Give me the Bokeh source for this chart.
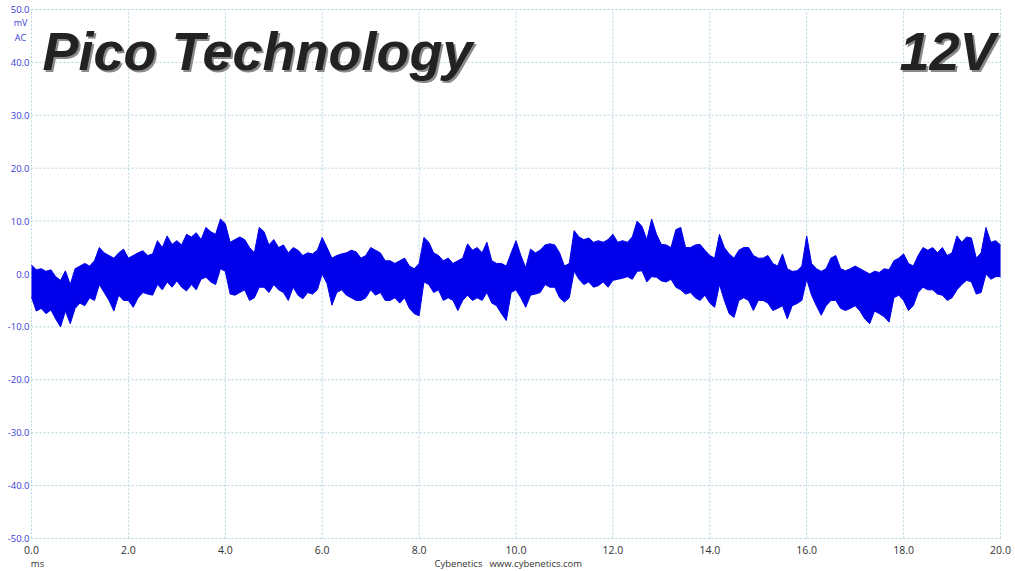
from bokeh.plotting import figure
from bokeh.models import Range1d, Label, ColumnDataSource
from bokeh.core.properties import value
from bokeh.embed import file_html
from bokeh.resources import INLINE

# ---- data (ms, mV) ----
step_ms = 0.1
upper_mv = [
    1.7, 0.8, 1.0, 0.5, 0.8, -0.5, -1.2, 0.6, -2.0, 1.0,
    1.5, 2.0, 1.5, 2.5, 5.0, 4.0, 3.5, 3.0, 4.0, 4.7,
    3.0, 3.5, 4.0, 4.4, 3.5, 3.8, 6.3, 5.0, 7.2, 5.6,
    6.3, 5.5, 7.5, 7.0, 7.8, 6.5, 8.8, 8.0, 7.5, 10.4,
    9.5, 6.0, 6.5, 7.0, 6.5, 5.0, 4.0, 8.8, 8.0, 5.5,
    6.5, 5.0, 5.5, 4.0, 5.0, 4.5, 3.5, 4.0, 3.8, 4.5,
    6.9, 5.0, 3.0, 3.5, 3.8, 4.0, 4.5, 4.2, 3.0, 3.5,
    5.0, 4.5, 4.0, 2.5, 2.5, 2.0, 2.5, 3.0, 1.5, 1.0,
    2.0, 6.9, 6.0, 4.0, 3.5, 2.5, 3.0, 2.0, 2.5, 3.0,
    5.7, 4.5, 5.0, 4.0, 6.0, 2.5, 2.0, 2.0, 1.5, 4.0,
    6.3, 3.5, 1.2, 4.7, 4.0, 4.5, 5.5, 5.7, 5.5, 4.0,
    1.5, 2.0, 8.2, 7.0, 6.5, 6.8, 6.0, 6.3, 6.0, 6.5,
    7.5, 6.0, 6.3, 6.0, 7.0, 10.0, 9.0, 6.5, 10.4, 7.5,
    5.6, 5.5, 5.0, 8.4, 8.8, 5.0, 5.0, 5.5, 5.6, 4.5,
    3.5, 3.0, 7.5, 5.0, 3.8, 3.0, 4.5, 5.0, 5.0, 3.5,
    3.0, 3.0, 3.5, 2.0, 1.5, 3.8, 1.0, 0.5, 0.6, 1.5,
    7.2, 2.0, 1.0, 0.5, 1.0, 3.0, 3.5, 1.0, 0.6, 1.0,
    1.5, 1.0, 0.5, 0.0, 0.5, 0.3, 1.0, 0.8, 2.5, 3.0,
    3.8, 2.0, 1.5, 3.5, 5.0, 4.5, 5.0, 4.0, 5.0, 3.5,
    4.0, 7.2, 6.0, 7.0, 6.8, 3.0, 4.0, 8.8, 6.0, 6.3,
    5.5,
]
lower_mv = [
    -4.4, -7.0, -6.5, -7.5, -6.8, -8.5, -10.0, -7.0, -9.4, -6.5,
    -5.5, -6.0, -4.5, -5.0, -2.0, -3.5, -5.0, -7.0, -4.0, -5.0,
    -5.0, -6.3, -4.5, -3.5, -3.8, -4.0, -2.0, -3.0, -1.5, -2.5,
    -1.3, -2.5, -3.2, -2.0, -3.0, -1.0, -0.6, -1.5, -2.0, 1.0,
    0.5, -3.8, -4.0, -3.5, -3.0, -5.0, -4.5, -2.5, -2.5, -3.5,
    -2.0, -3.0, -3.5, -5.0, -2.5, -4.0, -4.7, -3.5, -3.8, -3.0,
    0.0, -1.8, -5.9, -3.5, -3.0, -4.0, -4.5, -5.0, -5.0, -4.5,
    -3.0, -4.0, -3.5, -5.0, -5.0, -4.5, -5.5, -4.5, -6.5, -7.5,
    -7.9, -1.5, -2.0, -3.5, -3.0, -5.0, -4.5, -5.0, -6.9, -5.0,
    -4.0, -5.0, -4.5, -5.0, -3.5, -5.5, -6.0, -7.5, -8.8, -3.5,
    -3.0, -4.5, -6.3, -4.0, -3.8, -3.5, -2.0, -2.5, -2.5, -4.5,
    -5.3, -4.5, 0.5, -1.0, -2.0, -1.5, -2.5, -2.2, -1.5, -2.5,
    -1.2, -1.0, -0.8, -0.5, -1.0, 0.5, 0.6, -1.5, -0.5, -0.6,
    -1.3, -1.5, -1.0, -2.5, -3.0, -3.8, -3.5, -4.5, -5.0, -4.0,
    -5.5, -6.3, -2.0, -5.0, -7.5, -8.2, -5.0, -4.5, -5.0, -6.9,
    -5.0, -5.0, -5.5, -6.9, -6.5, -6.0, -8.5, -6.0, -5.6, -5.0,
    -1.0, -4.0, -6.0, -7.8, -6.0, -5.0, -5.0, -6.5, -6.9, -6.5,
    -6.0, -7.0, -8.5, -9.4, -7.0, -7.5, -8.1, -9.1, -4.5, -4.0,
    -5.0, -6.9, -6.0, -3.5, -2.5, -3.0, -3.0, -3.8, -4.0, -5.0,
    -4.5, -3.0, -2.0, -1.2, -1.5, -3.8, -3.5, 0.0, -1.0, -0.5,
    -0.5,
]
time_ms = [round(i * step_ms, 2) for i in range(len(upper_mv))]

x_ticks = [0, 2, 4, 6, 8, 10, 12, 14, 16, 18, 20]
y_ticks = [-50, -40, -30, -20, -10, 0, 10, 20, 30, 40, 50]
x_tick_labels = ["%.1f" % v for v in x_ticks]
y_tick_labels = ["%.1f" % v for v in y_ticks]

title_left = "Pico Technology"
title_right = "12V"
unit_y = ["mV", "AC"]
unit_x = "ms"
credit_name = "Cybenetics"
credit_url = "www.cybenetics.com"

X0, X1 = x_ticks[0], x_ticks[-1]
Y0, Y1 = y_ticks[0], y_ticks[-1]

# ---- figure: the frame fills the canvas; axes drawn from tick arrays ----
W, H = 1015, 571
LEFT_PX, RIGHT_PX, TOP_PX, BOTTOM_PX = 31, 1000, 9, 538
px_per_ms = (RIGHT_PX - LEFT_PX) / (X1 - X0)
px_per_mv = (BOTTOM_PX - TOP_PX) / (Y1 - Y0)
xs = X0 - LEFT_PX / px_per_ms
ye = Y1 + TOP_PX / px_per_mv
p = figure(width=W, height=H,
           x_range=Range1d(xs, xs + W / px_per_ms),
           y_range=Range1d(ye - H / px_per_mv, ye),
           x_axis_location=None, y_axis_location=None,
           min_border=0, output_backend="svg", toolbar_location=None)
p.outline_line_color = None
p.grid.visible = False
p.background_fill_color = "white"


def px_to_x(px):
    return xs + px / px_per_ms


def py_to_y(py):
    return ye - py / px_per_mv


# grid (dotted)
grid_color = "#b3d3de"
p.segment(x0=x_ticks, y0=[Y0] * len(x_ticks), x1=x_ticks, y1=[Y1] * len(x_ticks),
          line_color=grid_color, line_dash="2 2", line_width=1)
p.segment(x0=[X0] * len(y_ticks), y0=y_ticks, x1=[X1] * len(y_ticks), y1=y_ticks,
          line_color=grid_color, line_dash="2 2", line_width=1)

# trace
src = ColumnDataSource(dict(t=time_ms, hi=upper_mv, lo=lower_mv))
trace_color = "#0000EA"
p.varea(x="t", y1="lo", y2="hi", source=src, fill_color=trace_color)
p.line(x="t", y="hi", source=src, line_color=trace_color, line_width=1)
p.line(x="t", y="lo", source=src, line_color=trace_color, line_width=1)

# tick labels
p.text(x=x_ticks, y=[Y0] * len(x_ticks), text=x_tick_labels, y_offset=11,
       text_align="center", text_baseline="middle",
       text_font=value("Open Sans"), text_font_size="10.5px", text_color="#333333")
p.text(x=[X0] * len(y_ticks), y=y_ticks, text=y_tick_labels, x_offset=-2,
       text_align="right", text_baseline="middle",
       text_font=value("Open Sans"), text_font_size="9.5px", text_color="#3b3bd6")

# unit / credit texts
for txt, py in zip(unit_y, [22, 37]):
    p.add_layout(Label(x=px_to_x(20), y=py_to_y(py), text=txt, text_align="center",
                       text_baseline="middle", text_font="Open Sans",
                       text_font_size="9px", text_color="#3b3bd6"))
p.add_layout(Label(x=px_to_x(37), y=py_to_y(563), text=unit_x, text_align="center",
                   text_baseline="middle", text_font="Open Sans",
                   text_font_size="9.5px", text_color="#333333"))
p.add_layout(Label(x=px_to_x(434), y=py_to_y(563), text=credit_name, text_align="left",
                   text_baseline="middle", text_font="Open Sans",
                   text_font_size="9.5px", text_color="#333333"))
p.add_layout(Label(x=px_to_x(489), y=py_to_y(563), text=credit_url, text_align="left",
                   text_baseline="middle", text_font="Open Sans",
                   text_font_size="9.5px", text_color="#333333"))

# big titles with shadow
base_y = py_to_y(50)
for txt, px, align in [(title_left, 42, "left"), (title_right, 995, "right")]:
    p.add_layout(Label(x=px_to_x(px), y=base_y, text=txt, text_align=align,
                       text_baseline="alphabetic", x_offset=2, y_offset=-2,
                       text_font="Liberation Sans", text_font_style="bold italic",
                       text_font_size="54px", text_color="#8a8a8a"))
    p.add_layout(Label(x=px_to_x(px), y=base_y, text=txt, text_align=align,
                       text_baseline="alphabetic",
                       text_font="Liberation Sans", text_font_style="bold italic",
                       text_font_size="54px", text_color="#222222"))

open("out.html", "w").write(file_html(p, INLINE))
